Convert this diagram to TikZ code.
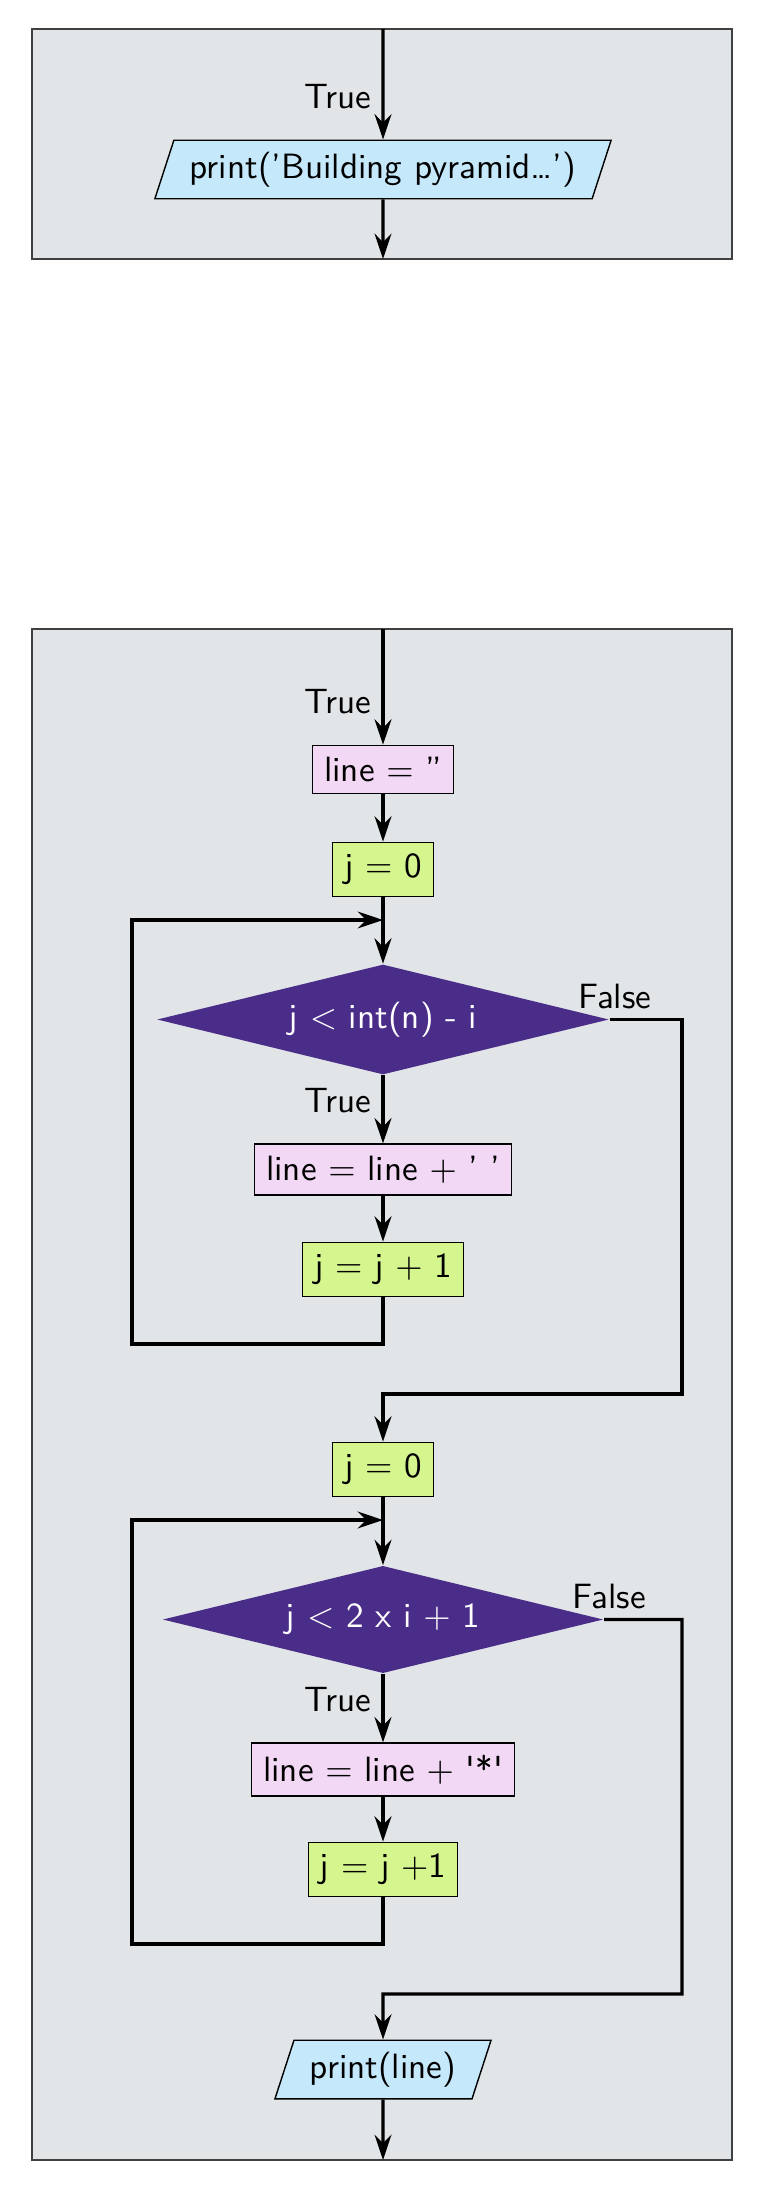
\documentclass[tikz,border=0pt]{standalone}
\usepackage{tikz}
\usetikzlibrary{shapes.geometric,calc,positioning,backgrounds,arrows.meta}
\renewcommand{\familydefault}{\sfdefault}
\definecolor{framegray}{RGB}{225,229,231}
\definecolor{iocol}{RGB}{197,233,251}
\definecolor{assigncol}{RGB}{243,216,245}
\definecolor{countcol}{RGB}{213,246,142}
\definecolor{condcol}{RGB}{74,45,136}

\begin{document}
\begin{tikzpicture}[%
    on grid,
    node distance=1cm,
    arr/.style={line width=0.95pt, -{Stealth[length=7.2pt,width=4.8pt,inset=2.4pt]}},
    io/.style={%
        draw,
        fill=iocol,
        trapezium,
        trapezium left angle=72,
        trapezium right angle=108,
        inner xsep=4.5pt,
    },
    assign/.style={draw, fill=assigncol},
    counter/.style={draw, fill=countcol},
    cond/.style={diamond, aspect=4.1, fill=condcol, text=white},
    frame/.style={draw=black!75, fill=framegray},
]
\useasboundingbox (0,0) rectangle (7.8,-22.12);
\pgfmathsetlengthmacro{\loopleft}{2.51cm};
\pgfmathsetlengthmacro{\loopright}{2.99cm};
    % first block
    \coordinate (t1) at (3.83,-0.29);
    \node[io, below=1.405cm of t1, anchor=center] (pb) {print('Building pyramid\ldots')};
    \coordinate[below=0.895cm of pb] (b1);
    \node[above left=0.43cm and 0.45cm of pb.north, anchor=center] (tr0) {True};
    \draw[arr] (t1) -- (pb);
    \draw[arr] (pb) -- (b1);

    % second block
    \coordinate[below=6cm of t1] (t2);
    \node[assign, below=1.405cm of t2, anchor=center] (li) {line $=$ ''};
    \node[counter, below=of li] (j1) {j $=$ 0};
    \node[cond, below=1.5cm of j1] (d1) {j $<$ int(n) - i};
    \node[assign, below=1.5cm of d1] (ls1) {line $=$ line $+$ ' '};
    \node[counter, below=of ls1] (ji1) {j $=$ j $+$ 1};
    \node[counter, below=2cm of ji1] (j2) {j $=$ 0};
    \node[cond, below=1.5cm of j2] (d2) {j $<$ 2 x i $+$ 1};
    \node[assign, below=1.5cm of d2] (ls2) {line $=$ line $+$ \textquotesingle*\textquotesingle};
    \node[counter, below=of ls2] (ji2) {j $=$ j $+$1};
    \node[io, below=2cm of ji2] (pl) {print(line)};
    \coordinate[below=0.905cm of pl] (b2);

    \node[above left=0.43cm and 0.45cm of li.north, anchor=center] (tr1) {True};
    \draw[arr] (t2) -- (li);
    \draw[arr] (li) -- (j1);
    \draw[arr] (j1) -- (d1);
    \draw[arr] (j2) -- (d2);
    \foreach \k in {1,2}{%
        \node[above left=0.43cm and 0.45cm of ls\k.north, anchor=center] (tl\k) {True};
        \node[above right=0.23cm and 0.05cm of d\k.east, anchor=center] (fl\k) {False};
        \coordinate[below=0.505cm of j\k] (jn\k);
        \coordinate[below=0.745cm of ji\k] (lb\k);
        \coordinate[left=\loopleft of lb\k] (lc\k);
        \coordinate[right=\loopright of d\k] (fr\k);
        \draw[arr] (d\k) -- (ls\k);
        \draw[arr] (ls\k) -- (ji\k);
        \draw[arr] (ji\k) -- (lb\k) -- (lc\k) |- (jn\k);
    }
    \coordinate[above=0.755cm of j2] (fj1);
    \coordinate[above=0.755cm of pl] (fj2);
    \draw[arr] (d1) -- (fr1) |- (fj1) -- (j2);
    \draw[arr] (d2) -- (fr2) |- (fj2) -- (pl);
    \draw[arr] (pl) -- (b2);

    \begin{scope}[on background layer]
        \draw[frame] ($(t1)+(-3.51,0)$) rectangle ($(b1)+(3.49,0)$);
        \draw[frame] ($(t2)+(-3.51,0)$) rectangle ($(b2)+(3.49,0)$);
    \end{scope}
\end{tikzpicture}
\end{document}
